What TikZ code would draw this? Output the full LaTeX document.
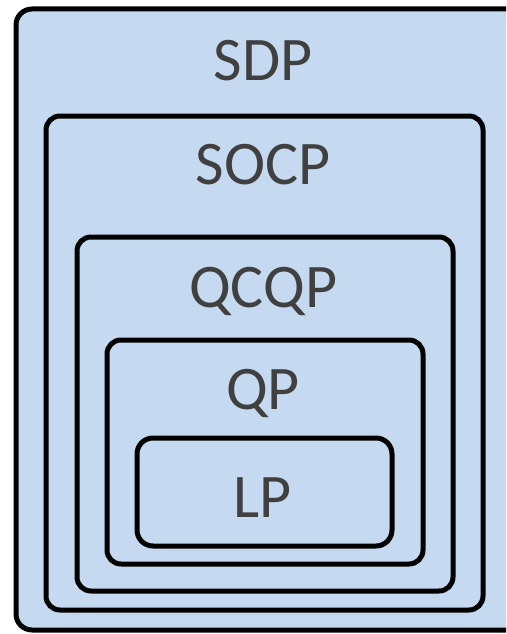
\documentclass[tikz,border=0pt]{standalone}
\usepackage{fontspec}
\setmainfont{Carlito}
\definecolor{setfill}{RGB}{197,217,240}
\definecolor{labelgrey}{RGB}{64,64,64}
\tikzset{
  setbox/.style={draw=black, line width=5pt, rounded corners=14pt, fill=setfill},
  setlabel/.style={text=labelgrey, font=\fontsize{62}{62}\selectfont, inner sep=0pt, anchor=base}
}
\begin{document}
\begin{tikzpicture}[x=1pt, y=-1pt]
  \useasboundingbox (0,0) rectangle (506,634);
  \begin{scope}
    \clip (0,0) rectangle (506,634);
    % nested problem classes, outermost first
    \draw[setbox, rounded corners=16pt] (16,9) rectangle (530,630);
    \draw[setbox] (46,116) rectangle (483,610);
    \draw[setbox] (77,237) rectangle (453,591);
    \draw[setbox] (107,340) rectangle (423,564);
    \draw[setbox, rounded corners=16pt] (137,438) rectangle (392,546);
  \end{scope}
  \node[setlabel] (sdp)  at (263,80)  {SDP};
  \node[setlabel] (socp) at (263,184) {SOCP};
  \node[setlabel] (qcqp) at (263,307) {QCQP};
  \node[setlabel] (qp)   at (263,409) {QP};
  \node[setlabel] (lp)   at (263,517) {LP};
\end{tikzpicture}
\end{document}
